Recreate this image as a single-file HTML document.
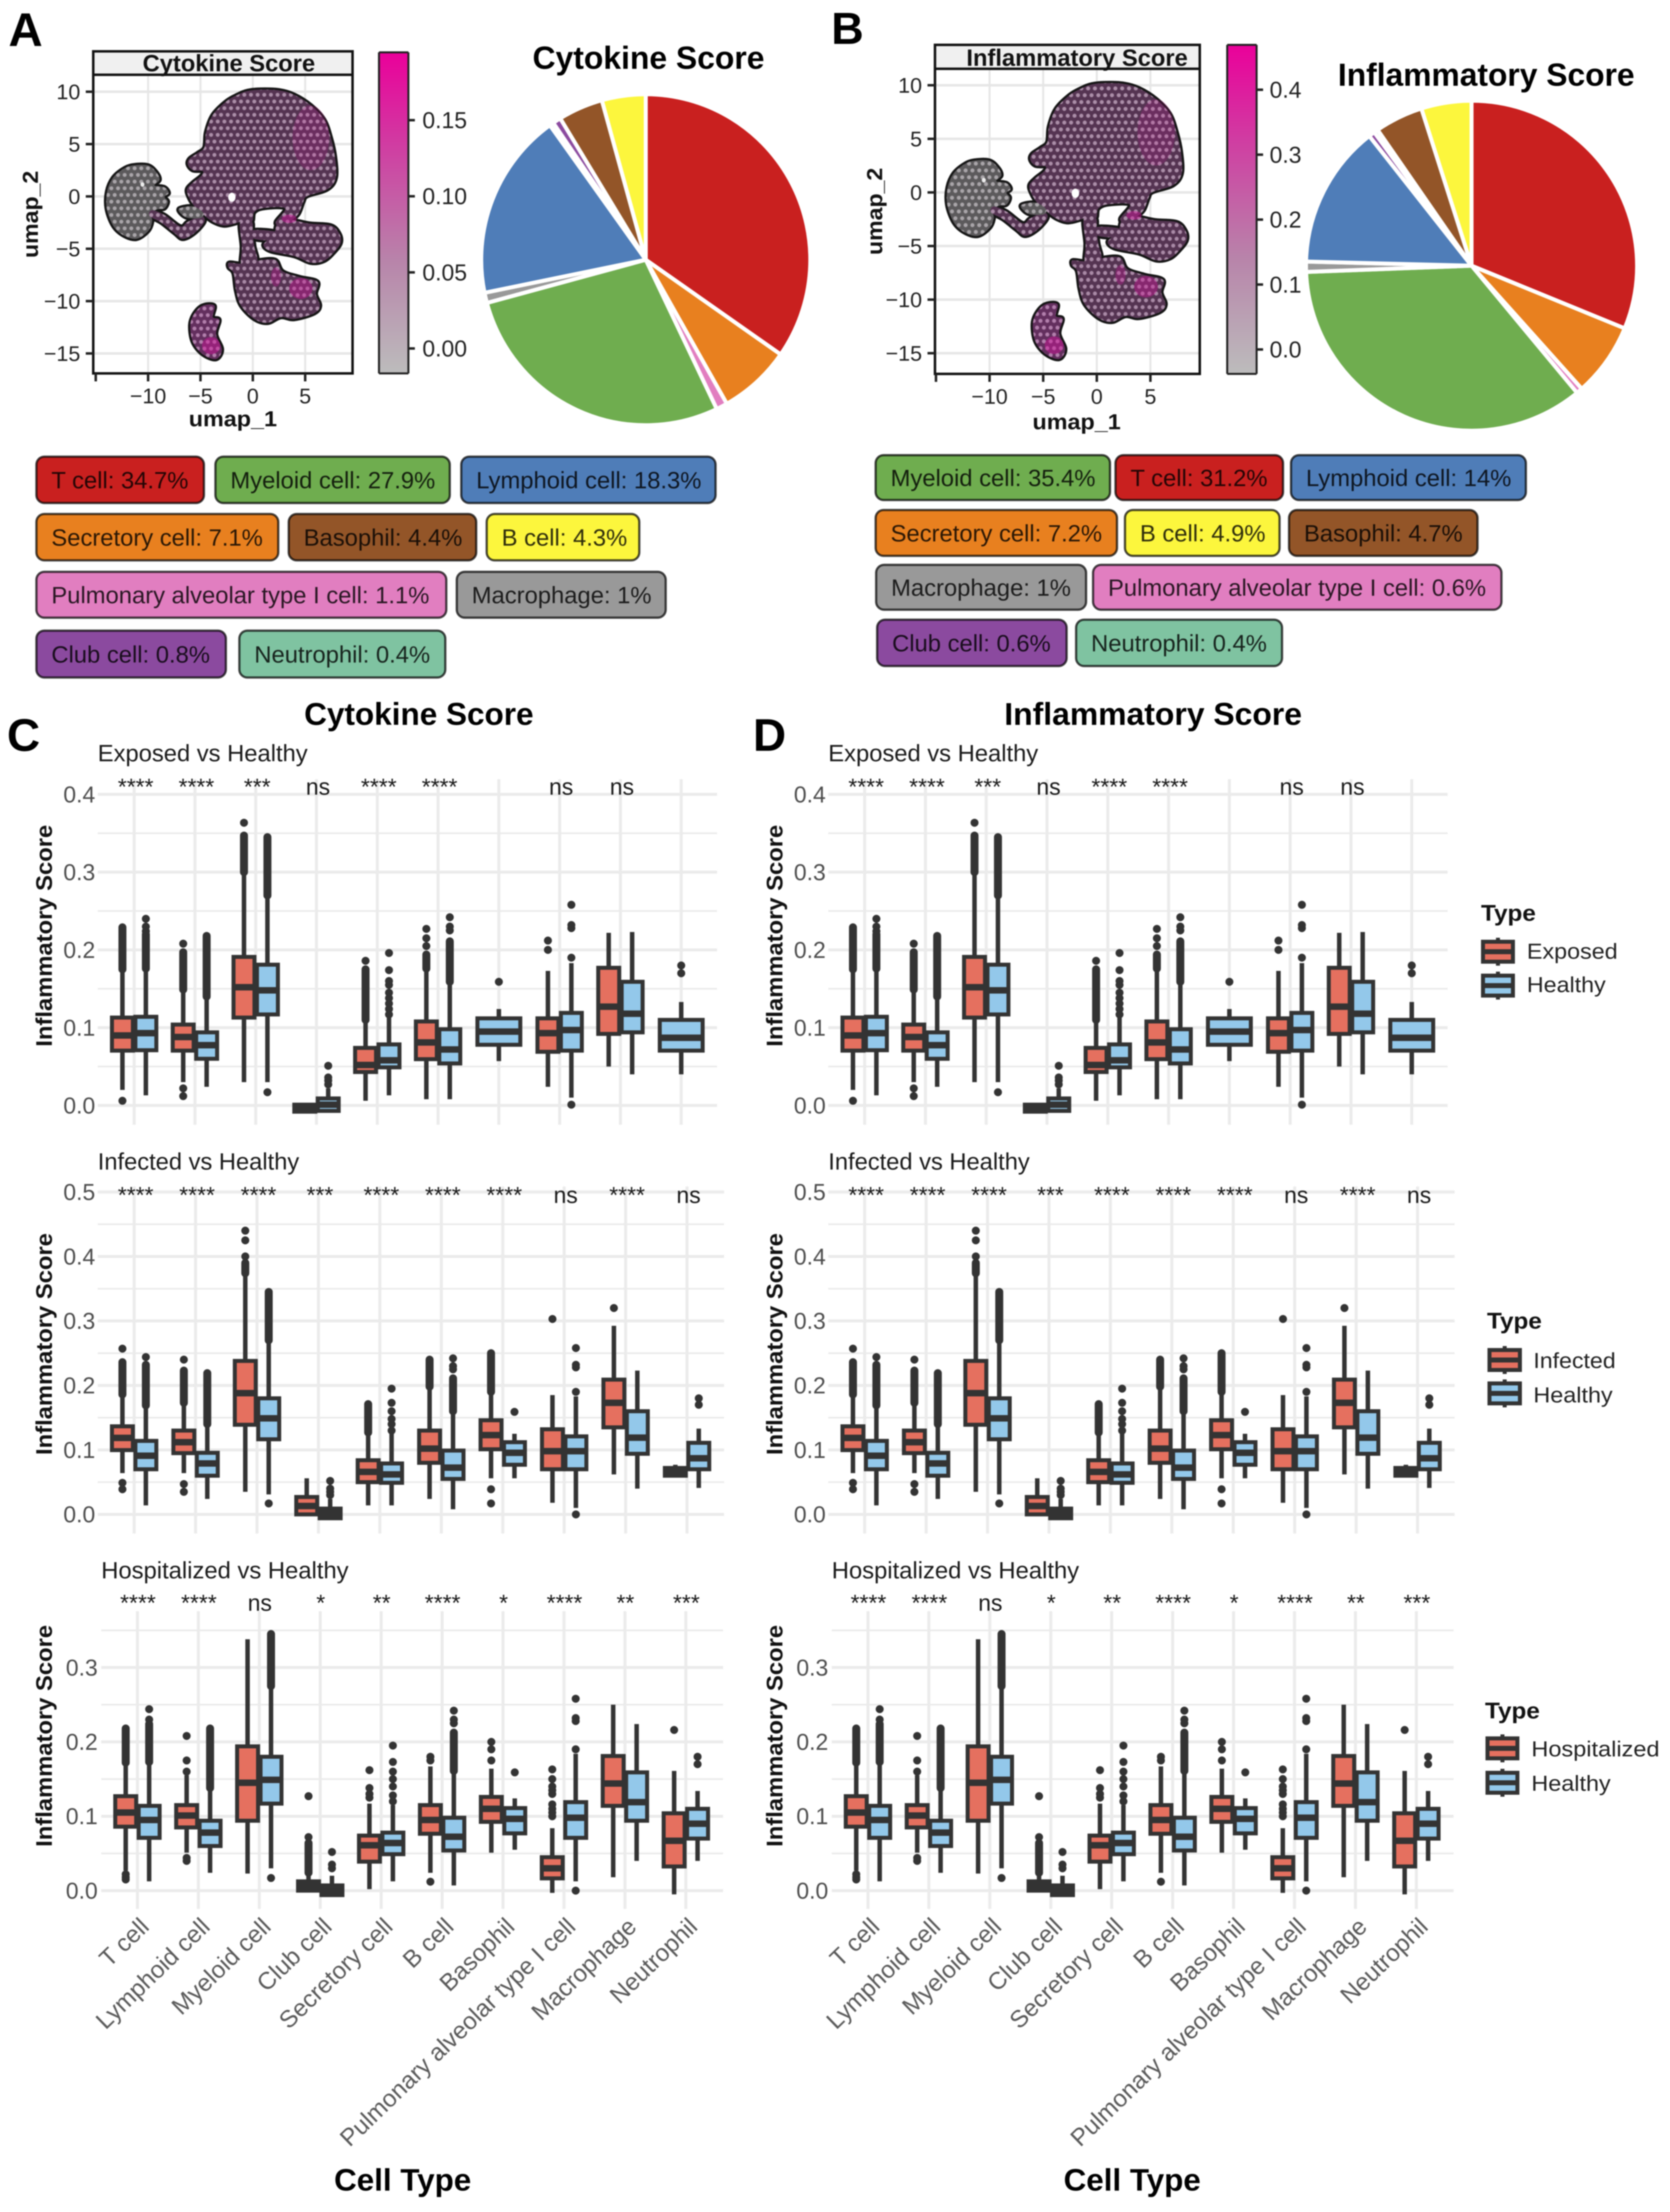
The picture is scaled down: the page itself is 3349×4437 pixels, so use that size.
<!DOCTYPE html>
<html lang="en">
<head>
<meta charset="utf-8">
<title>Cytokine and Inflammatory Score figure</title>
<style>
html,body{margin:0;padding:0;background:#fff;}
#figure{display:block;width:3349px;height:4437px;filter:blur(1.2px);font-family:"Liberation Sans",sans-serif;}
</style>
</head>
<body>
<svg id="figure" xmlns="http://www.w3.org/2000/svg" width="3349" height="4437" viewBox="0 0 3349 4437">
<defs>
  <pattern id="dots-gray" patternUnits="userSpaceOnUse" width="40" height="70">
    <rect width="40" height="70" fill="#5c5a5c"/>
    <g fill="#a9a5a9"><ellipse cx="0" cy="0" rx="12" ry="10.5"/><ellipse cx="40" cy="0" rx="12" ry="10.5"/><ellipse cx="0" cy="70" rx="12" ry="10.5"/><ellipse cx="40" cy="70" rx="12" ry="10.5"/><ellipse cx="20" cy="35" rx="12" ry="10.5"/></g>
  </pattern>
  <pattern id="dots-purple" patternUnits="userSpaceOnUse" width="40" height="70">
    <rect width="40" height="70" fill="#553452"/>
    <g fill="#ab8ea8"><ellipse cx="0" cy="0" rx="12" ry="10.5"/><ellipse cx="40" cy="0" rx="12" ry="10.5"/><ellipse cx="0" cy="70" rx="12" ry="10.5"/><ellipse cx="40" cy="70" rx="12" ry="10.5"/><ellipse cx="20" cy="35" rx="12" ry="10.5"/></g>
  </pattern>
  <pattern id="dots-mixed" patternUnits="userSpaceOnUse" width="40" height="70">
    <rect width="40" height="70" fill="#553452"/>
    <g fill="#a98aa6"><ellipse cx="0" cy="0" rx="12" ry="10.5"/><ellipse cx="40" cy="0" rx="12" ry="10.5"/><ellipse cx="0" cy="70" rx="12" ry="10.5"/><ellipse cx="40" cy="70" rx="12" ry="10.5"/><ellipse cx="20" cy="35" rx="12" ry="10.5"/></g>
  </pattern>
  <pattern id="dots-pink" patternUnits="userSpaceOnUse" width="40" height="70">
    <rect width="40" height="70" fill="#632f5e"/>
    <g fill="#b27fac"><ellipse cx="0" cy="0" rx="12" ry="10.5"/><ellipse cx="40" cy="0" rx="12" ry="10.5"/><ellipse cx="0" cy="70" rx="12" ry="10.5"/><ellipse cx="40" cy="70" rx="12" ry="10.5"/><ellipse cx="20" cy="35" rx="12" ry="10.5"/></g>
  </pattern>
  <linearGradient id="score-gradient" x1="0" y1="0" x2="0" y2="1">
    <stop offset="0" stop-color="#ea009a"/>
    <stop offset="0.3" stop-color="#cf3fa2"/>
    <stop offset="0.65" stop-color="#b884aa"/>
    <stop offset="1" stop-color="#bcbcbc"/>
  </linearGradient>
</defs>
<rect width="3349" height="4437" fill="#ffffff"/>

<g font-weight="bold" fill="#000">
  <text x="17" y="92" font-size="95">A</text>
  <text x="1667" y="88" font-size="90">B</text>
  <text x="14" y="1506" font-size="92">C</text>
  <text x="1510" y="1506" font-size="92">D</text>
  <text x="1068" y="138" font-size="64" textLength="465" lengthAdjust="spacingAndGlyphs">Cytokine Score</text>
  <text x="2683" y="172" font-size="64" textLength="595" lengthAdjust="spacingAndGlyphs">Inflammatory Score</text>
  <text x="610" y="1454" font-size="63" textLength="460" lengthAdjust="spacingAndGlyphs">Cytokine Score</text>
  <text x="2014" y="1454" font-size="63" textLength="597" lengthAdjust="spacingAndGlyphs">Inflammatory Score</text>
  <text x="670" y="4394" font-size="62" textLength="275" lengthAdjust="spacingAndGlyphs">Cell Type</text>
  <text x="2133" y="4394" font-size="62" textLength="275" lengthAdjust="spacingAndGlyphs">Cell Type</text>
</g>

<g id="umap-a"></g>
<g id="umap-b"></g>
<g id="pie-a"></g>
<g id="pie-b"></g>
<g id="pills-a"></g>
<g id="pills-b"></g>
<g id="box-c"></g>
<g id="box-d"></g>
<g id="type-legends"></g>
</svg>

<script>
// ---------- category and slice data ----------
const cellTypes = ['T cell','Lymphoid cell','Myeloid cell','Club cell','Secretory cell','B cell','Basophil','Pulmonary alveolar type I cell','Macrophage','Neutrophil'];

const pieSliceNamesA = ['T cell','Secretory cell','Pulmonary alveolar type I cell','Myeloid cell','Macrophage','Lymphoid cell','Neutrophil','Club cell','Basophil','B cell'];
const pieSliceValuesA = [34.7,7.1,1.1,27.9,1,18.3,0.4,0.8,4.4,4.3];
const pieSliceNamesB = ['T cell','Secretory cell','Pulmonary alveolar type I cell','Myeloid cell','Macrophage','Lymphoid cell','Club cell','Neutrophil','Basophil','B cell'];
const pieSliceValuesB = [31.2,7.2,0.6,35.4,1,14,0.6,0.4,4.7,4.9];

const umapTicksX = [-15,-10,-5,0,5];
const umapTicksY = [10,5,0,-5,-10,-15];
const colorbarTicksA = ['0.00','0.05','0.10','0.15'];
const colorbarTicksB = ['0.0','0.1','0.2','0.3','0.4'];

// ---------- box plot data: Exposed vs Healthy ----------
const exposedSig = ['****','****','***','ns','****','****','','ns','ns',''];
const exposedTicks = ['0.0','0.1','0.2','0.3','0.4'];
const exposedCaseLow = [.02,.03,.03,-.008,.006,.008,null,.024,.05,null];
const exposedCaseQ1 = [.0705,.0705,.113,-.008,.043,.0595,null,.069,.092,null];
const exposedCaseMed = [.09,.088,.152,-.004,.052,.081,null,.093,.127,null];
const exposedCaseQ3 = [.113,.104,.191,.001,.074,.108,null,.112,.177,null];
const exposedCaseHigh = [.175,.149,.30,.001,.11,.176,null,.173,.222,null];
const exposedCaseBand = [.229,.197,.347,null,.175,.194,null,null,null,null];
const exposedCaseOut = [[.006],[.012,.022,.208],[.3635],[],[.186],[.205,.215,.227],[],[.2,.212],[],[]];
const exposedHealthyLow = [.013,.024,.03,-.007,.013,.008,.057,.01,.04,.04];
const exposedHealthyQ1 = [.071,.06,.117,-.007,.049,.054,.078,.0705,.094,.0705];
const exposedHealthyMed = [.093,.0775,.148,.001,.058,.072,.095,.097,.118,.087];
const exposedHealthyQ3 = [.114,.094,.181,.009,.0785,.098,.112,.119,.159,.11];
const exposedHealthyHigh = [.176,.14,.27,.022,.114,.159,.124,.183,.223,.133];
const exposedHealthyBand = [.22,.218,.345,null,null,.211,null,null,null,null];
const exposedHealthyOut = [[.224,.23,.24],[],[.017],[.027,.032,.036,.051],[.117,.124,.131,.138,.145,.155,.16,.174,.196],[.225,.23,.242],[.159],[.001,.19,.228,.232,.258],[],[.17,.18]];

// ---------- box plot data: Infected vs Healthy ----------
const infectedSig = ['****','****','****','***','****','****','****','ns','****','ns'];
const infectedTicks = ['0.0','0.1','0.2','0.3','0.4','0.5'];
const infectedCaseLow = [.064,.064,.035,0,.014,.024,.056,.018,.062,.057];
const infectedCaseQ1 = [.0997,.095,.139,0,.05,.08,.101,.07,.135,.06];
const infectedCaseMed = [.1186,.112,.188,.013,.066,.102,.123,.098,.173,.066];
const infectedCaseQ3 = [.1366,.13,.238,.027,.084,.13,.146,.132,.209,.072];
const infectedCaseHigh = [.186,.173,.374,.056,.127,.198,.19,.185,.2925,.077];
const infectedCaseBand = [.236,.223,.39,null,.171,.24,.25,null,null,null];
const infectedCaseOut = [[.049,.039,.257],[.047,.035,.24],[.4,.425,.44],[],[],[],[.039,.017],[.303],[.32],[]];
const infectedHealthyLow = [.014,.024,.031,-.006,.014,.008,.056,.01,.04,.041];
const infectedHealthyQ1 = [.07,.06,.1165,-.006,.049,.055,.077,.07,.094,.07];
const infectedHealthyMed = [.091,.079,.149,.001,.062,.0725,.0955,.098,.119,.087];
const infectedHealthyQ3 = [.114,.0955,.18,.009,.079,.099,.112,.121,.16,.111];
const infectedHealthyHigh = [.169,.14,.27,.024,.125,.16,.125,.183,.223,.133];
const infectedHealthyBand = [.232,.219,.345,null,null,.211,null,null,null,null];
const infectedHealthyOut = [[.244],[],[.017],[.03,.035,.04,.052],[.13,.14,.148,.16,.173,.195],[.225,.23,.242],[.159],[0,.19,.228,.232,.258],[],[.17,.18]];

// ---------- box plot data: Hospitalized vs Healthy ----------
const hospSig = ['****','****','ns','*','**','****','*','****','**','***'];
const hospTicks = ['0.0','0.1','0.2','0.3'];
const hospCaseLow = [.027,.051,.023,0,.002,.024,.051,-.003,.018,-.005];
const hospCaseQ1 = [.086,.085,.094,0,.039,.0765,.0925,.0165,.114,.0325];
const hospCaseMed = [.105,.101,.145,.006,.061,.095,.11,.03,.144,.067];
const hospCaseQ3 = [.127,.115,.194,.0125,.074,.115,.126,.045,.181,.104];
const hospCaseHigh = [.172,.155,.338,.024,.117,.167,.164,.084,.25,.161];
const hospCaseBand = [.218,null,null,.064,null,null,null,null,null,null];
const hospCaseOut = [[.015,.018,.022],[.04,.044,.16,.175,.208],[],[.072,.127],[.125,.13,.138,.162],[.012,.175,.18],[.175,.19,.2],[.1,.105,.11,.116,.13,.135,.14,.15,.163],[],[.216]];
const hospHealthyLow = [.0125,.024,.03,-.006,.0125,.007,.055,.0125,.04,.04];
const hospHealthyQ1 = [.071,.06,.117,-.006,.049,.054,.077,.071,.094,.07];
const hospHealthyMed = [.095,.078,.149,0,.064,.0725,.0965,.098,.119,.09];
const hospHealthyQ3 = [.114,.094,.18,.007,.078,.098,.111,.119,.159,.11];
const hospHealthyHigh = [.173,.138,.275,.02,.115,.161,.124,.184,.224,.134];
const hospHealthyBand = [.224,.218,.345,null,null,.2125,null,null,null,null];
const hospHealthyOut = [[.23,.244],[],[.017],[.03,.035,.052],[.12,.128,.14,.15,.16,.173,.195],[.225,.23,.242],[.159],[0,.19,.228,.232,.258],[],[.17,.18]];

// ---------- helpers ----------
const NS = 'http://www.w3.org/2000/svg';
function svgEl(tag, attrs, parent){
  const el = document.createElementNS(NS, tag);
  for (const k in attrs) el.setAttribute(k, attrs[k]);
  parent.appendChild(el);
  return el;
}
function label(parent, x, y, str, size, extra){
  const el = svgEl('text', Object.assign({x:x, y:y, 'font-size':size}, extra || {}), parent);
  el.textContent = str;
  return el;
}
const cellColors = {
  'T cell':'#c9201f','Myeloid cell':'#6fad4f','Lymphoid cell':'#4f7db8','Secretory cell':'#e8801f',
  'Basophil':'#935528','B cell':'#fcf63d','Pulmonary alveolar type I cell':'#e17ec0','Macrophage':'#999999',
  'Club cell':'#8b4a9f','Neutrophil':'#7fc3a1'
};

// ---------- UMAP silhouettes (traced cluster outlines) ----------
const silhouettes = [
  {fill:'url(#dots-purple)', pts:[[920,85],[1000,78],[1110,82],[1200,105],[1300,160],[1380,235],[1420,330],[1445,430],[1450,540],[1400,600],[1280,635],[1255,665],[1225,730],[1170,770],[1110,790],[1090,770],[1145,700],[1020,698],[960,720],[945,770],[880,770],[860,775],[780,790],[710,770],[650,730],[600,690],[565,640],[555,600],[590,565],[640,530],[650,505],[590,500],[560,470],[570,440],[620,410],[660,380],[670,300],[710,210],[790,140],[860,105]]},
  {fill:'url(#dots-gray)', pts:[[230,475],[320,475],[370,510],[390,550],[360,580],[420,590],[445,620],[420,640],[440,665],[420,700],[380,705],[340,725],[345,770],[320,820],[250,860],[170,840],[110,790],[72,700],[75,610],[110,540],[170,495]]},
  {fill:'url(#dots-purple)', pts:[[345,710],[420,735],[515,795],[560,770],[640,740],[660,770],[600,830],[530,860],[480,830],[400,775],[330,740]]},
  {fill:'url(#dots-gray)', pts:[[510,700],[590,690],[650,720],[640,750],[560,750],[515,725]]},
  {fill:'url(#dots-mixed)', pts:[[950,815],[1100,825],[1090,865],[960,860]]},
  {fill:'url(#dots-mixed)', pts:[[1100,780],[1170,760],[1290,780],[1420,790],[1470,830],[1480,880],[1440,930],[1380,975],[1300,985],[1200,950],[1060,925],[1015,895],[1040,865],[1080,830]]},
  {fill:'url(#dots-mixed)', pts:[[875,770],[945,770],[950,830],[960,900],[975,980],[885,1000],[885,900]]},
  {fill:'url(#dots-mixed)', pts:[[810,985],[880,990],[970,975],[1085,970],[1130,1030],[1230,1060],[1340,1085],[1330,1150],[1355,1210],[1320,1250],[1200,1280],[1120,1270],[1040,1300],[960,1280],[880,1210],[850,1130],[835,1040],[805,1010]]},
  {fill:'url(#dots-pink)', pts:[[650,1210],[720,1210],[710,1270],[750,1285],[730,1360],[765,1440],[730,1490],[650,1465],[590,1400],[575,1310],[600,1250]]}
];
const umapTints = [
  {cx:1240,cy:1120,rx:70,ry:55,o:.4},{cx:700,cy:1420,rx:55,ry:45,o:.45},{cx:1170,cy:755,rx:45,ry:22,o:.45},
  {cx:1300,cy:330,rx:110,ry:170,o:.18},{cx:1090,cy:1060,rx:30,ry:50,o:.3}
];
function smoothPath(pts){
  const n = pts.length;
  let d = 'M'+pts[0][0]+' '+pts[0][1];
  for (let i=0;i<n;i++){
    const p0=pts[(i-1+n)%n], p1=pts[i], p2=pts[(i+1)%n], p3=pts[(i+2)%n];
    const c1=[p1[0]+(p2[0]-p0[0])/6, p1[1]+(p2[1]-p0[1])/6];
    const c2=[p2[0]-(p3[0]-p1[0])/6, p2[1]-(p3[1]-p1[1])/6];
    d += 'C'+c1[0]+' '+c1[1]+' '+c2[0]+' '+c2[1]+' '+p2[0]+' '+p2[1];
  }
  return d+'Z';
}
function drawUmap(root, cfg){
  const xs = u => cfg.x0 + cfg.unit*u;
  const ys = v => cfg.y0 - cfg.unit*v;
  const grid = svgEl('g',{stroke:'#e6e6e6',fill:'none'},root);
  
  
  umapTicksY.forEach(v=>{ svgEl('line',{x1:cfg.left,x2:cfg.right,y1:ys(v),y2:ys(v),'stroke-width':5},grid); });
  umapTicksX.forEach(u=>{ if(u>-15) svgEl('line',{x1:xs(u),x2:xs(u),y1:cfg.stripBottom,y2:cfg.bottom,'stroke-width':4},grid); });

  const shape = svgEl('g',{transform:cfg.shapeTransform},root);
  
  
  silhouettes.forEach(s=>{
    svgEl('path',{d:smoothPath(s.pts),fill:'#151515','stroke':'#151515','stroke-width':9,'vector-effect':'non-scaling-stroke','stroke-linejoin':'round'},shape);
  });
  silhouettes.forEach(s=>{
    svgEl('path',{d:smoothPath(s.pts),fill:s.fill},shape);
  });
  umapTints.forEach(t=>{
    svgEl('ellipse',{cx:t.cx,cy:t.cy,rx:t.rx,ry:t.ry,fill:'#d2149c','fill-opacity':t.o},shape);
  });
  svgEl('ellipse',{cx:825,cy:642,rx:22,ry:24,fill:'#fff'},shape);
  svgEl('ellipse',{cx:287,cy:575,rx:12,ry:12,fill:'#eee'},shape);

  const strip = svgEl('rect',{x:cfg.left,y:cfg.top,width:cfg.right-cfg.left,height:cfg.stripBottom-cfg.top,fill:'#f0f0f0'},root);
  
  
  const st = label(root,cfg.stripX,cfg.stripY,cfg.stripText,47,{'font-weight':'bold',fill:'#111',textLength:cfg.stripW,lengthAdjust:'spacingAndGlyphs'});
  
  
  const frame = svgEl('path',{d:`M${cfg.left} ${cfg.top}H${cfg.right}V${cfg.bottom}H${cfg.left}ZM${cfg.left} ${cfg.stripBottom}H${cfg.right}`,fill:'none',stroke:'#111','stroke-width':5},root);
  
  

  umapTicksY.forEach(v=>{
    svgEl('line',{x1:cfg.left-15,x2:cfg.left,y1:ys(v),y2:ys(v),stroke:'#222','stroke-width':5},root);
    const t = label(root,cfg.left-26,ys(v)+15,String(v).replace('-','\u2212'),43,{'text-anchor':'end',fill:'#222'});
    
    
  });
  umapTicksX.forEach(u=>{
    svgEl('line',{x1:xs(u),x2:xs(u),y1:cfg.bottom,y2:cfg.bottom+16,stroke:'#222','stroke-width':5},root);
    if(u>-15){
      const t = label(root,xs(u),cfg.xLabelY,String(u).replace('-','\u2212'),43,{'text-anchor':'middle',fill:'#222'});
      
      
    }
  });
  const xt = label(root,cfg.xTitleX,cfg.xTitleY,'umap_1',44,{'font-weight':'bold','text-anchor':'middle',fill:'#111',textLength:177,lengthAdjust:'spacingAndGlyphs'});
  
  
  const yt = label(root,0,0,'umap_2',44,{'font-weight':'bold','text-anchor':'middle',fill:'#111',textLength:175,lengthAdjust:'spacingAndGlyphs',transform:`translate(${cfg.yTitleX},${cfg.yTitleY}) rotate(-90)`});
  
  

  const bar = svgEl('rect',{x:cfg.barX,y:cfg.barTop,width:cfg.barW,height:cfg.barBottom-cfg.barTop,fill:'url(#score-gradient)'},root);
  
  
  svgEl('path',{d:`M${cfg.barX} ${cfg.barTop}H${cfg.barX+cfg.barW}M${cfg.barX} ${cfg.barBottom}H${cfg.barX+cfg.barW}M${cfg.barX} ${cfg.barTop}V${cfg.barBottom}M${cfg.barX+cfg.barW} ${cfg.barTop}V${cfg.barBottom}`,stroke:'#222','stroke-width':4,fill:'none'},root);
  cfg.barTicks.forEach(tk=>{
    const y = cfg.barZero - cfg.barPerUnit*parseFloat(tk);
    svgEl('line',{x1:cfg.barX+cfg.barW,x2:cfg.barX+cfg.barW+13,y1:y,y2:y,stroke:'#222','stroke-width':5},root);
    const t = label(root,cfg.barTextX,y+16,tk,46,{fill:'#222'});
    
    
  });
}
drawUmap(document.getElementById('umap-a'),{
  x0:507,y0:394,unit:21,left:187,right:707,top:103,stripBottom:150,bottom:749,
  shapeTransform:'matrix(.33333 0 0 .3827 190 150)',
  stripText:'Cytokine Score',stripX:286,stripY:143,stripW:346,
  xLabelY:809,xTitleX:467,xTitleY:855,yTitleX:76,yTitleY:430,
  barX:760,barW:59,barTop:105,barBottom:749,barTicks:colorbarTicksA,barZero:699,barPerUnit:3053,barTextX:847
});
drawUmap(document.getElementById('umap-b'),{
  x0:2199.5,y0:386,unit:21.5,left:1875,right:2406,top:90,stripBottom:138,bottom:750,
  shapeTransform:'matrix(.34127 0 0 .3918 1875 136.2)',
  stripText:'Inflammatory Score',stripX:1938,stripY:132,stripW:444,
  xLabelY:810,xTitleX:2159,xTitleY:861,yTitleX:1769,yTitleY:424,
  barX:2461,barW:59,barTop:90,barBottom:750,barTicks:colorbarTicksB,barZero:701,barPerUnit:1302.5,barTextX:2546
});

// ---------- Pies ----------
function drawPie(root, names, values, cx, cy, rx, ry){
  const total = values.reduce((a,b)=>a+b,0);
  let acc = 0;
  values.forEach((v,i)=>{
    const a0 = acc/total*2*Math.PI;
    acc += v;
    const a1 = acc/total*2*Math.PI;
    const p0 = [cx+rx*Math.sin(a0), cy-ry*Math.cos(a0)];
    const p1 = [cx+rx*Math.sin(a1), cy-ry*Math.cos(a1)];
    const large = (a1-a0)>Math.PI?1:0;
    const s = svgEl('path',{d:`M${cx} ${cy}L${p0[0]} ${p0[1]}A${rx} ${ry} 0 ${large} 1 ${p1[0]} ${p1[1]}Z`,fill:cellColors[names[i]],stroke:'#fff','stroke-width':8,'stroke-linejoin':'round'},root);
    
    
  });
}
drawPie(document.getElementById('pie-a'),pieSliceNamesA,pieSliceValuesA,1295,521,330,332);
drawPie(document.getElementById('pie-b'),pieSliceNamesB,pieSliceValuesB,2951,533,332,331);

// ---------- Legend pills ----------
const pillLayoutA = [
  ['T cell',73,409,0],['Myeloid cell',432,902,0],['Lymphoid cell',925,1435,0],
  ['Secretory cell',73,558,1],['Basophil',579,955,1],['B cell',976,1282,1],
  ['Pulmonary alveolar type I cell',73,895,2],['Macrophage',916,1335,2],
  ['Club cell',73,453,3],['Neutrophil',480,893,3]
];
const pillRowsA = [[916,1009],[1031,1124],[1147,1239],[1265,1359]];
const pillLayoutB = [
  ['Myeloid cell',1756,2226,0],['T cell',2237,2573,0],['Lymphoid cell',2589,3060,0],
  ['Secretory cell',1756,2240,1],['B cell',2256,2566,1],['Basophil',2585,2963,1],
  ['Macrophage',1757,2178,2],['Pulmonary alveolar type I cell',2192,3011,2],
  ['Club cell',1759,2139,3],['Neutrophil',2158,2571,3]
];
const pillRowsB = [[913,1003],[1023,1115],[1133,1223],[1243,1336]];
function drawPills(root, layout, rows, names, values){
  layout.forEach(p=>{
    const name=p[0], l=p[1], r=p[2], row=rows[p[3]];
    const pill = svgEl('rect',{x:l,y:row[0],width:r-l,height:row[1]-row[0],rx:16,fill:cellColors[name],stroke:'rgba(0,0,0,.72)','stroke-width':4.5},root);
    
    
    const str = name+': '+values[names.indexOf(name)]+'%';
    const t = label(root,l+30,(row[0]+row[1])/2+17,str,47.7,{fill:'#000','fill-opacity':.82});
    
    
  });
}
drawPills(document.getElementById('pills-a'),pillLayoutA,pillRowsA,pieSliceNamesA,pieSliceValuesA);
drawPills(document.getElementById('pills-b'),pillLayoutB,pillRowsB,pieSliceNamesB,pieSliceValuesB);

// ---------- Box plots ----------
const DARK = '#333333', CASE_FILL = '#e5705f', HEALTHY_FILL = '#93c8ea';
const boxPanels = [
  {key:'exposed',title:'Exposed vs Healthy',titleX:196,titleY:1527,titleTextLen:421,
   y0:2217.4,perUnit:1560,xStart:269,xStep:121.9,left:196,right:1438,top:1563,bottom:2256,maxTick:.4,maxMinor:.35,
   ticks:exposedTicks,sig:exposedSig,sigY:1594,sigDx:3,yTitleY:1877,yLabelX:191,
   caseS:[exposedCaseLow,exposedCaseQ1,exposedCaseMed,exposedCaseQ3,exposedCaseHigh,exposedCaseBand,exposedCaseOut],
   healthyS:[exposedHealthyLow,exposedHealthyQ1,exposedHealthyMed,exposedHealthyQ3,exposedHealthyHigh,exposedHealthyBand,exposedHealthyOut]},
  {key:'infected',title:'Infected vs Healthy',titleX:196,titleY:2346,titleTextLen:404,
   y0:3037.7,perUnit:1293.5,xStart:269,xStep:123.2,left:196,right:1452,top:2380,bottom:3076,maxTick:.5,maxMinor:.45,
   ticks:infectedTicks,sig:infectedSig,sigY:2413,sigDx:3,yTitleY:2696,yLabelX:191,
   caseS:[infectedCaseLow,infectedCaseQ1,infectedCaseMed,infectedCaseQ3,infectedCaseHigh,infectedCaseBand,infectedCaseOut],
   healthyS:[infectedHealthyLow,infectedHealthyQ1,infectedHealthyMed,infectedHealthyQ3,infectedHealthyHigh,infectedHealthyBand,infectedHealthyOut]},
  {key:'hospitalized',title:'Hospitalized vs Healthy',titleX:203,titleY:3166,titleTextLen:496,
   y0:3792.4,perUnit:1492,xStart:275.6,xStep:122.2,left:203,right:1450,top:3232,bottom:3829,maxTick:.3,maxMinor:.35,
   ticks:hospTicks,sig:hospSig,sigY:3231,sigDx:1,yTitleY:3482,yLabelX:196,
   caseS:[hospCaseLow,hospCaseQ1,hospCaseMed,hospCaseQ3,hospCaseHigh,hospCaseBand,hospCaseOut],
   healthyS:[hospHealthyLow,hospHealthyQ1,hospHealthyMed,hospHealthyQ3,hospHealthyHigh,hospHealthyBand,hospHealthyOut]}
];
function drawBox(g, cx, hw, ys, s, i, fill){
  const low=s[0][i], q1=s[1][i], med=s[2][i], q3=s[3][i], high=s[4][i], band=s[5][i], out=s[6][i];
  const w = svgEl('line',{x1:cx,x2:cx,y1:ys(low),y2:ys(high),stroke:DARK,'stroke-width':9},g);
  
  
  if (band !== null){
    const b = svgEl('line',{x1:cx,x2:cx,y1:ys(high),y2:ys(band),stroke:DARK,'stroke-width':16,'stroke-linecap':'round'},g);
    
    
  }
  out.forEach(v=>{
    const c = svgEl('circle',{cx:cx,cy:ys(v),r:8,fill:DARK},g);
    
    
  });
  const r = svgEl('rect',{x:cx-hw,y:ys(q3),width:2*hw,height:ys(q1)-ys(q3),fill:fill,stroke:DARK,'stroke-width':8},g);
  
  
  const m = svgEl('line',{x1:cx-hw,x2:cx+hw,y1:ys(med),y2:ys(med),stroke:DARK,'stroke-width':13},g);
  
  
}
function drawPanel(root, p, dx, withXLabels){
  const g = svgEl('g',{transform:`translate(${dx},0)`},root);
  
  
  const ys = v => p.y0 - p.perUnit*v;
  const xs = i => p.xStart + p.xStep*i;
  for (let k=0;k<=Math.round(p.maxMinor*20);k++){
    const v = k*0.05;
    const isMajor = k%2===0;
    const gl = svgEl('line',{x1:p.left,x2:p.right,y1:ys(v),y2:ys(v),stroke:'#ebebeb','stroke-width':isMajor?6:3.5},g);
    
    
  }
  if (p.maxTick>p.maxMinor){
    const gl = svgEl('line',{x1:p.left,x2:p.right,y1:ys(p.maxTick),y2:ys(p.maxTick),stroke:'#ebebeb','stroke-width':6},g);
    
    
  }
  cellTypes.forEach((c,i)=>{
    const gl = svgEl('line',{x1:xs(i),x2:xs(i),y1:p.top,y2:p.bottom,stroke:'#ebebeb','stroke-width':6},g);
    
    
  });
  p.ticks.forEach(t=>{
    const tl = label(g,p.yLabelX,ys(parseFloat(t))+16,t,46,{'text-anchor':'end',fill:'#4d4d4d'});
    
    
  });
  const tt = label(g,p.titleX,p.titleY,p.title,47.5,{fill:'#1a1a1a',textLength:p.titleTextLen,lengthAdjust:'spacingAndGlyphs'});
  
  
  const yt = label(g,0,0,'Inflammatory Score',45,{'font-weight':'bold','text-anchor':'middle',fill:'#111',textLength:445,lengthAdjust:'spacingAndGlyphs',transform:`translate(104,${p.yTitleY}) rotate(-90)`});
  
  
  cellTypes.forEach((c,i)=>{
    const hasCase = p.caseS[1][i] !== null;
    const cx = xs(i);
    if (hasCase){
      drawBox(g,cx-23.5,21,ys,p.caseS,i,CASE_FILL);
      drawBox(g,cx+23.5,21,ys,p.healthyS,i,HEALTHY_FILL);
    } else {
      drawBox(g,cx,43,ys,p.healthyS,i,HEALTHY_FILL);
    }
    if (p.sig[i]){
      const s = label(g,cx+p.sigDx,p.sigY,p.sig[i],46,{'text-anchor':'middle',fill:'#1a1a1a'});
      
      
    }
    if (withXLabels){
      const x = cx+26, y = 3868;
      const xl = label(g,0,0,c,48.5,{'text-anchor':'end',fill:'#5a5a5a',transform:`translate(${x},${y}) rotate(-44)`});
      
      
    }
  });
}
[['box-c',0],['box-d',1465]].forEach(pair=>{
  const root = document.getElementById(pair[0]);
  boxPanels.forEach((p,idx)=>drawPanel(root,p,pair[1],idx===2));
});

// ---------- Type legends ----------
const typeLegendCase = ['Exposed','Infected','Hospitalized'];
const typeLegendHealthy = ['Healthy','Healthy','Healthy'];
const typeLegendLayout = [
  {titleX:2970,titleY:1847,keyX:2974,keyW:60,k1:1909,k2:1977,labelX:3062,b1:1923,b2:1990,w1:182,w2:158},
  {titleX:2982,titleY:2665,keyX:2987,keyW:61,k1:2728,k2:2795,labelX:3075,b1:2744,b2:2813,w1:165,w2:159},
  {titleX:2978,titleY:3447,keyX:2983,keyW:60,k1:3507,k2:3576,labelX:3071,b1:3523,b2:3592,w1:257,w2:159}
];
function drawKey(root, x, w, cy, fill){
  svgEl('line',{x1:x+w/2,x2:x+w/2,y1:cy-28,y2:cy+28,stroke:DARK,'stroke-width':8},root);
  const r = svgEl('rect',{x:x,y:cy-20,width:w,height:40,fill:fill,stroke:DARK,'stroke-width':8},root);
  
  
  svgEl('line',{x1:x,x2:x+w,y1:cy,y2:cy,stroke:DARK,'stroke-width':10},root);
}
(function(){
  const root = document.getElementById('type-legends');
  typeLegendLayout.forEach((L,i)=>{
    const t = label(root,L.titleX,L.titleY,'Type',45,{'font-weight':'bold',fill:'#111',textLength:110,lengthAdjust:'spacingAndGlyphs'});
    
    
    drawKey(root,L.keyX,L.keyW,L.k1,CASE_FILL);
    drawKey(root,L.keyX,L.keyW,L.k2,HEALTHY_FILL);
    const a = label(root,L.labelX,L.b1,typeLegendCase[i],44,{fill:'#222',textLength:L.w1,lengthAdjust:'spacingAndGlyphs'});
    
    
    const b = label(root,L.labelX,L.b2,typeLegendHealthy[i],44,{fill:'#222',textLength:L.w2,lengthAdjust:'spacingAndGlyphs'});
    
    
  });
})();
</script>
</body>
</html>
